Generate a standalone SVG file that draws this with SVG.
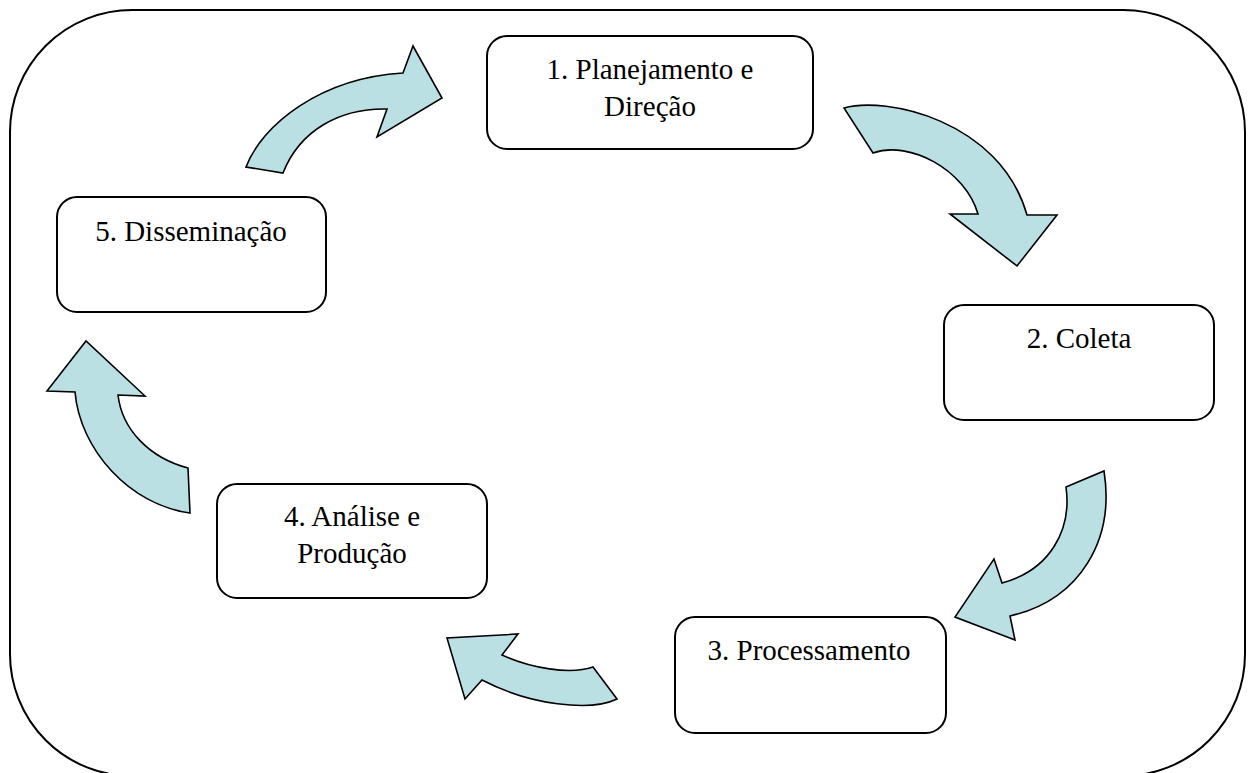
<svg xmlns="http://www.w3.org/2000/svg" width="1249" height="773" viewBox="0 0 1249 773">
  <style>
    .frame { fill: #ffffff; stroke: #000000; stroke-width: 2; }
    .box { fill: #ffffff; stroke: #000000; stroke-width: 2; }
    .label { font-family: "Liberation Serif", "Times New Roman", serif; font-size: 29px; fill: #000000; text-anchor: middle; }
    .arrow { fill: #BBE0E3; stroke: #000000; stroke-width: 1.6; stroke-linejoin: miter; }
  </style>

  <rect width="1249" height="773" fill="#ffffff"/>
  <!-- outer rounded frame -->
  <rect class="frame" x="10" y="10" width="1235" height="766" rx="122" ry="122"/>

  <!-- curved block arrows linking the stages -->
  <g id="connectors">
    <path class="arrow" d="M246,167 C262,125 320,78 403,73 L413,46 L442,98 L377,137 L387,109 C340,108 300,130 283,173 Z"/>
    <path class="arrow" d="M844,108 C885,96 1000,120 1027,215 L1057,215 L1017,266 L950,214 L978,214 C965,170 910,140 873,153 Z"/>
    <path class="arrow" d="M1104,471 C1115,540 1080,600 1010,616 L1015,640 L955,617 L994,559 L1002,583 C1050,570 1072,530 1066,487 Z"/>
    <path class="arrow" d="M593,667 L617,699 C590,712 530,705 482,680 L465,699 L447,638 L518,634 L502,655 C530,668 570,675 593,667 Z"/>
    <path class="arrow" d="M190,513 L188,468 C150,458 122,430 118,395 L145,396 L86,341 L47,391 L75,392 C80,450 130,505 190,513 Z"/>
  </g>

  <g id="node1">
    <rect class="box" x="487" y="36" width="326" height="113" rx="20" ry="20"/>
    <text class="label" x="650" y="79">1. Planejamento e</text>
    <text class="label" x="650" y="116">Direção</text>
  </g>

  <g id="node2">
    <rect class="box" x="944" y="305" width="270" height="115" rx="20" ry="20"/>
    <text class="label" x="1079" y="348">2. Coleta</text>
  </g>

  <g id="node3">
    <rect class="box" x="675" y="617" width="271" height="116" rx="20" ry="20"/>
    <text class="label" x="809" y="660">3. Processamento</text>
  </g>

  <g id="node4">
    <rect class="box" x="217" y="484" width="270" height="114" rx="20" ry="20"/>
    <text class="label" x="352" y="526">4. Análise e</text>
    <text class="label" x="352" y="563">Produção</text>
  </g>

  <g id="node5">
    <rect class="box" x="57" y="197" width="269" height="115" rx="20" ry="20"/>
    <text class="label" x="191" y="241">5. Disseminação</text>
  </g>
</svg>
